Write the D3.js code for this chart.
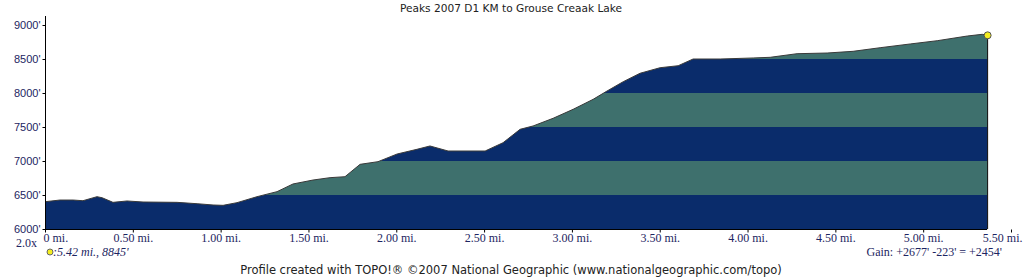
<!DOCTYPE html>
<html>
<head>
<meta charset="utf-8">
<script src="https://cdn.jsdelivr.net/npm/d3@7"></script>
<style>
  body { margin: 0; background: #fff; }
  svg { display: block; }
</style>
</head>
<body>
<div id="chart"></div>
<script>
// profile (miles, feet)
var distance = [0, 0.085, 0.16, 0.216, 0.296, 0.325, 0.387, 0.467, 0.558, 0.752, 0.866, 0.957, 1.014, 1.093,
  1.207, 1.321, 1.412, 1.526, 1.623, 1.708, 1.794, 1.896, 2.005, 2.118, 2.192, 2.295, 2.506, 2.608, 2.705,
  2.779, 2.893, 3.007, 3.121, 3.200, 3.292, 3.388, 3.502, 3.605, 3.690, 3.844, 4.032, 4.129, 4.282, 4.453,
  4.601, 4.755, 4.926, 5.080, 5.251, 5.336, 5.364];
var elevation = [6401, 6426, 6426, 6416, 6475, 6460, 6392, 6412, 6397, 6392, 6372, 6353, 6348, 6387,
  6475, 6549, 6662, 6720, 6755, 6769, 6951, 6990, 7103, 7172, 7221, 7147, 7147, 7269, 7466,
  7515, 7628, 7760, 7907, 8029, 8166, 8290, 8372, 8401, 8500, 8500, 8515, 8525, 8578, 8588,
  8613, 8666, 8721, 8769, 8838, 8863, 8848];
var yTicks = [6000, 6500, 7000, 7500, 8000, 8500, 9000];
var xTicks = [0, 0.5, 1, 1.5, 2, 2.5, 3, 3.5, 4, 4.5, 5, 5.5];
var xTickLabels = ["0 mi.", "0.50 mi.", "1.00 mi.", "1.50 mi.", "2.00 mi.", "2.50 mi.", "3.00 mi.",
  "3.50 mi.", "4.00 mi.", "4.50 mi.", "5.00 mi.", "5.50 mi."];
var titleText = "Peaks 2007 D1 KM to Grouse Creaak Lake";
var markerText = ":5.42 mi., 8845'";
var gainText = "Gain: +2677' -223' = +2454'";
var zoomText = "2.0x";
var footerText = "Profile created with TOPO!\u00AE \u00A92007 National Geographic (www.nationalgeographic.com/topo)";

var W = 1024, H = 278;
var navy = "#0a2c6b", teal = "#3e706d", labelCol = "#1d2561";

var data = distance.map(function(d, i){ return {mi: d, ft: elevation[i]}; });

var x = d3.scaleLinear().domain([0, 5.5]).range([45, 1011]);
var y = d3.scaleLinear().domain([6000, 9000]).range([229, 25]);

var svg = d3.select("#chart").append("svg")
    .attr("width", W)
    .attr("height", H);

// area under the profile, used as clip
var area = d3.area()
    .x(function(d){ return x(d.mi); })
    .y0(y(6000))
    .y1(function(d){ return y(d.ft); });

svg.append("clipPath").attr("id", "under")
  .append("path")
    .attr("d", area(data));

var bands = svg.append("g").attr("clip-path", "url(#under)");
bands.selectAll("rect")
    .data(yTicks.slice(0, -1))
    .enter()
    .append("rect")
    .attr("x", x(0))
    .attr("y", function(d){ return y(d + 500); })
    .attr("width", x(distance[distance.length - 1]) - x(0))
    .attr("height", function(d){ return y(d) - y(d + 500); })
    .attr("fill", function(d, i){ return i % 2 == 0 ? navy : teal; });

// profile outline
svg.append("path")
    .datum(data)
    .attr("fill", "none")
    .attr("stroke", "#3a3a3a")
    .attr("stroke-width", 1)
    .attr("d", d3.line().x(function(d){ return x(d.mi); }).y(function(d){ return y(d.ft); }));

var last = data[data.length - 1];

// right edge + base line
svg.append("line")
    .attr("x1", x(last.mi) + 0.5).attr("x2", x(last.mi) + 0.5)
    .attr("y1", y(last.ft)).attr("y2", y(6000))
    .attr("stroke", "#000");
svg.append("line")
    .attr("x1", x(0)).attr("x2", x(last.mi))
    .attr("y1", y(6000) + 0.5).attr("y2", y(6000) + 0.5)
    .attr("stroke", "#000");

// y axis
var yAxis = svg.append("g")
    .attr("transform", "translate(" + (x(0) + 0.5) + ",0)")
    .call(d3.axisLeft(y).tickValues(yTicks).tickSize(3).tickPadding(2)
      .tickFormat(function(d){ return d + "'"; }));
yAxis.select(".domain").attr("d", "M0,16V230").attr("stroke", "#000");
yAxis.selectAll(".tick line").attr("stroke", "#000");
yAxis.selectAll("text")
    .attr("font-family", "Liberation Sans, Arial, sans-serif")
    .attr("font-size", 11)
    .attr("fill", labelCol);

// x axis
var xAxis = svg.append("g")
    .attr("transform", "translate(0," + (y(6000) + 0.5) + ")")
    .call(d3.axisBottom(x).tickValues(xTicks).tickSize(3).tickPadding(1)
      .tickFormat(function(d, i){ return xTickLabels[i]; }));
xAxis.select(".domain").remove();
xAxis.selectAll(".tick line").attr("stroke", "#000");
xAxis.selectAll("text")
    .attr("font-family", "Liberation Serif, Times New Roman, serif")
    .attr("font-size", 12)
    .attr("fill", labelCol)
    .attr("text-anchor", function(d, i){ return i == 0 ? "start" : (i == xTicks.length - 1 ? "end" : "middle"); })
    .attr("dx", function(d, i){ return i == 0 ? -2 : (i == xTicks.length - 1 ? 11 : 0); });

// end marker
svg.append("circle")
    .attr("cx", x(last.mi) + 0.5).attr("cy", y(last.ft))
    .attr("r", 3.5)
    .attr("fill", "#f4ee20")
    .attr("stroke", "#555")
    .attr("stroke-width", 1);

// texts
svg.append("text")
    .attr("x", 511).attr("y", 12)
    .attr("text-anchor", "middle")
    .attr("font-family", "DejaVu Sans, sans-serif")
    .attr("font-size", 10.6)
    .attr("fill", "#222")
    .text(titleText);

svg.append("text")
    .attr("x", 16).attr("y", 247)
    .attr("font-family", "Liberation Serif, serif")
    .attr("font-size", 12)
    .attr("fill", labelCol)
    .text(zoomText);

svg.append("circle")
    .attr("cx", 50).attr("cy", 252)
    .attr("r", 3)
    .attr("fill", "#f4ee20")
    .attr("stroke", "#666");

svg.append("text")
    .attr("x", 53).attr("y", 256)
    .attr("font-family", "Liberation Serif, serif")
    .attr("font-style", "italic")
    .attr("font-size", 12)
    .attr("fill", labelCol)
    .text(markerText);

svg.append("text")
    .attr("x", 1002).attr("y", 256)
    .attr("text-anchor", "end")
    .attr("font-family", "Liberation Serif, serif")
    .attr("font-size", 12)
    .attr("fill", labelCol)
    .text(gainText);

svg.append("text")
    .attr("x", 511).attr("y", 274)
    .attr("text-anchor", "middle")
    .attr("font-family", "DejaVu Sans, sans-serif")
    .attr("font-size", 11.5)
    .attr("fill", "#222")
    .text(footerText);
</script>
</body>
</html>
